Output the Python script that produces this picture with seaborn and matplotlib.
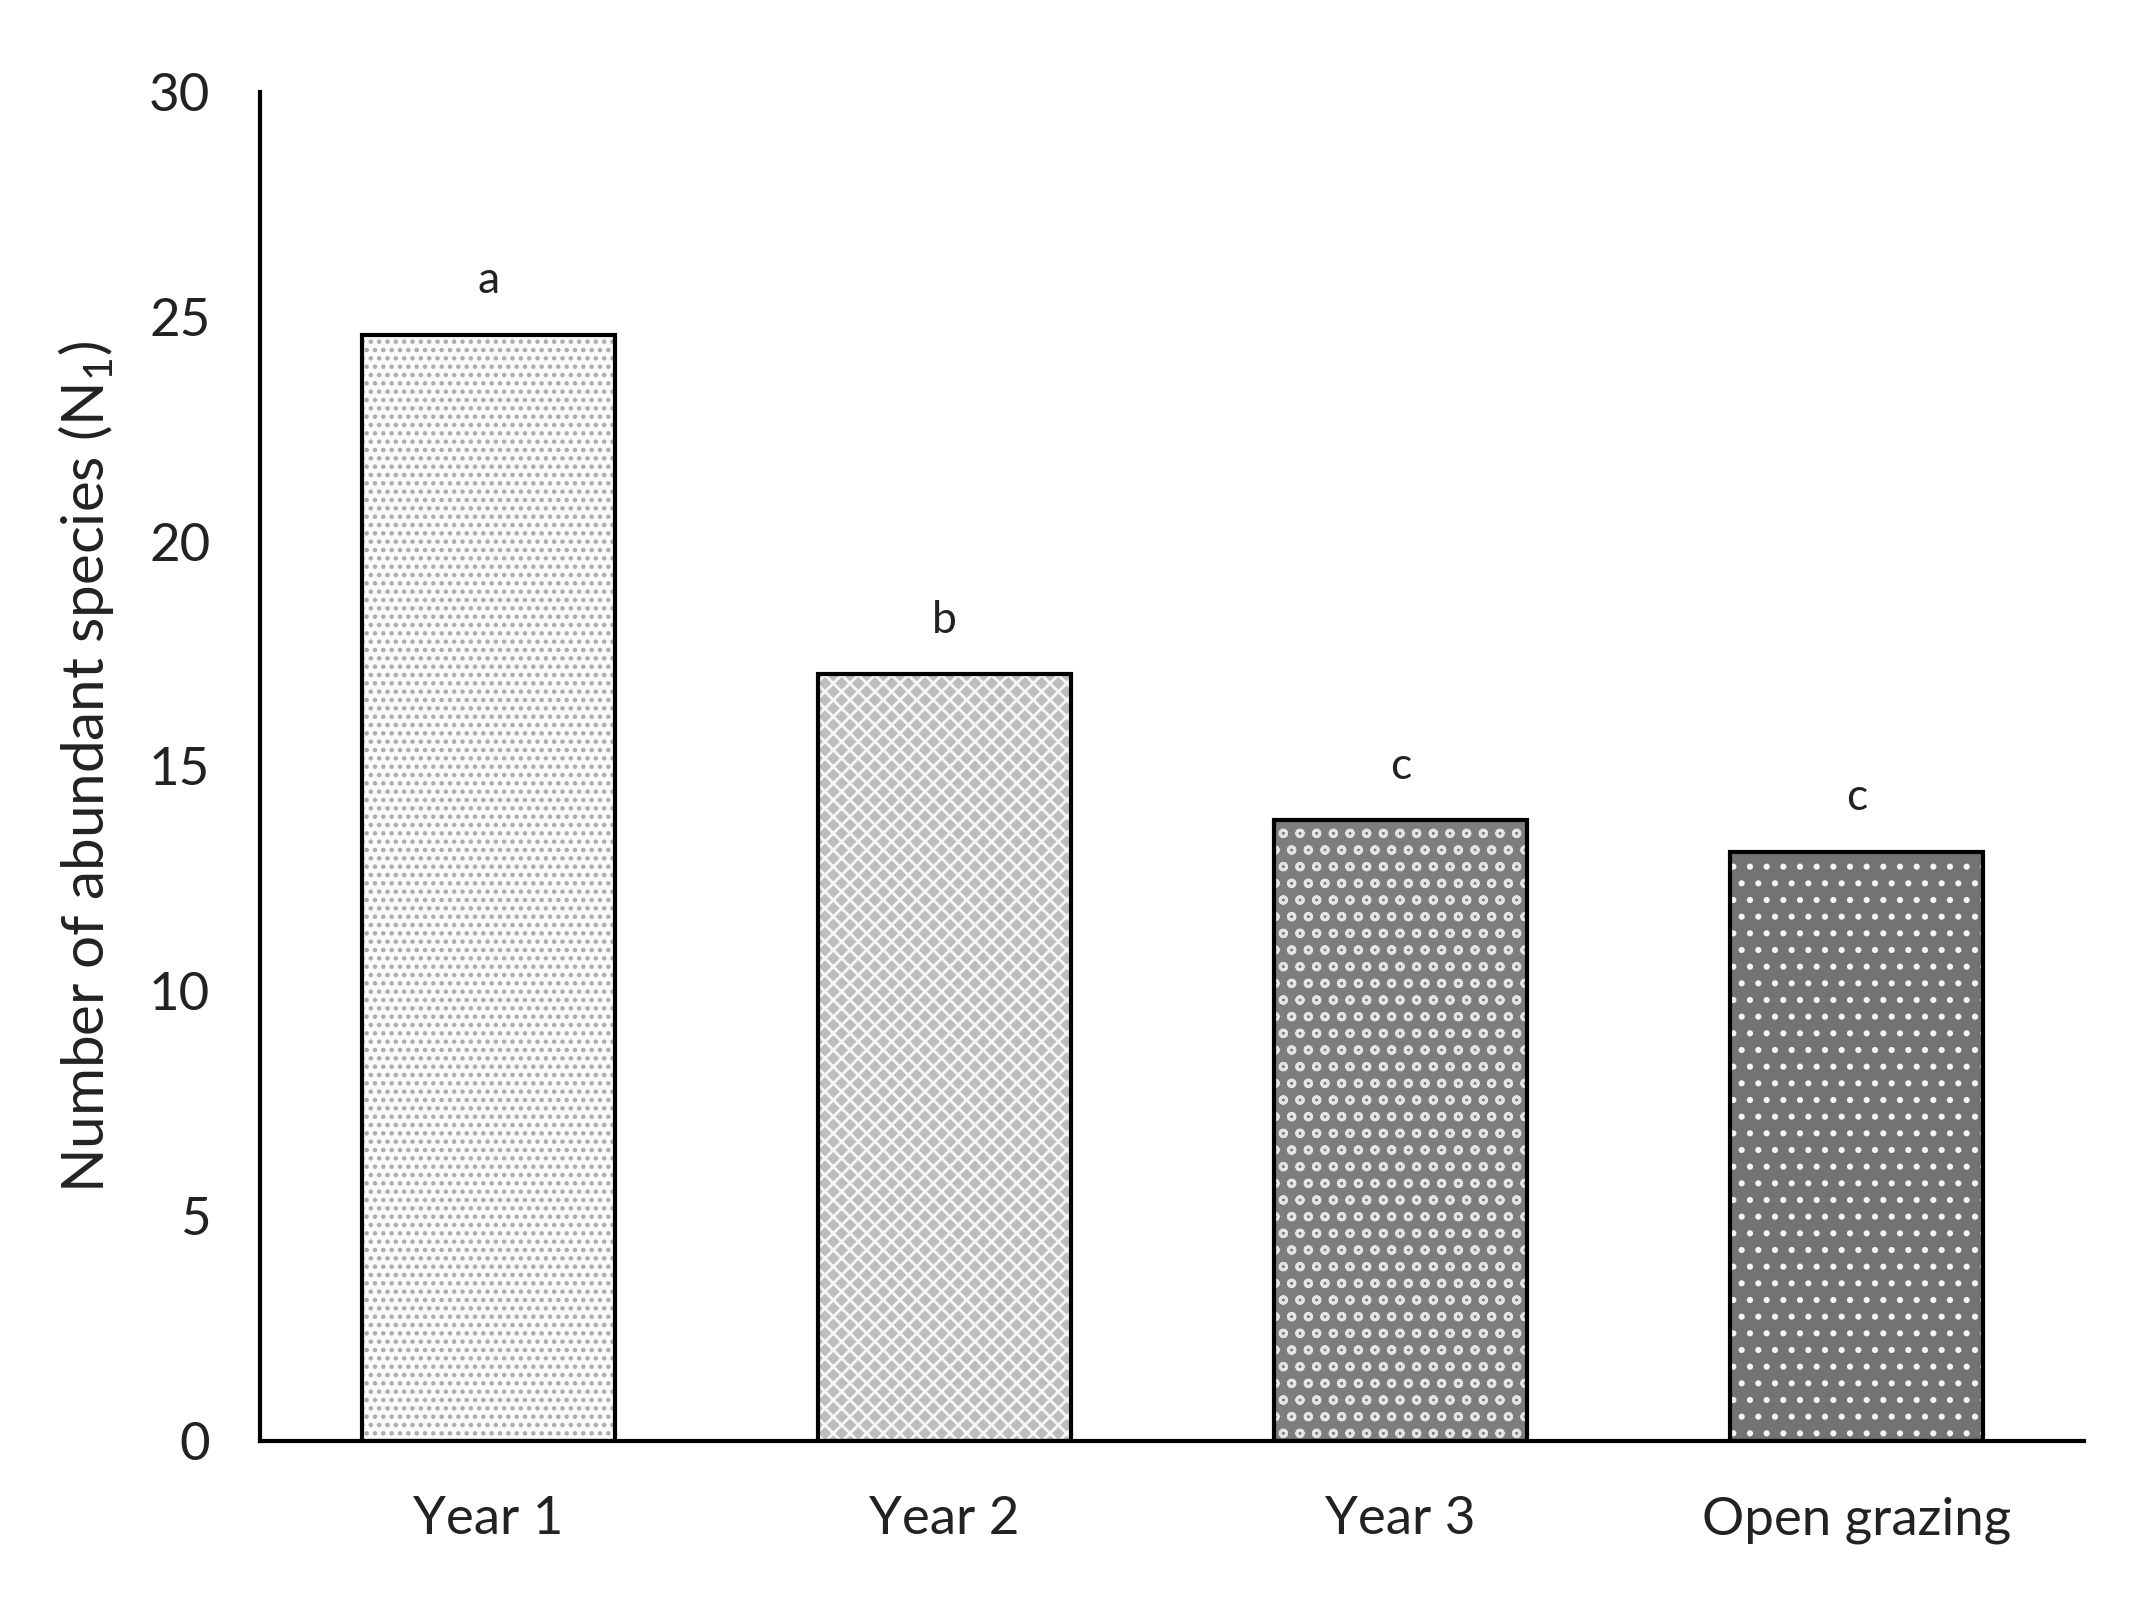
import matplotlib
matplotlib.use("Agg")
import matplotlib.pyplot as plt
import seaborn as sns
import pandas as pd

# data
treatments = ["Year 1", "Year 2", "Year 3", "Open grazing"]
abundant_species = [24.6, 17.05, 13.8, 13.1]
group_letters = ["a", "b", "c", "c"]

# fill / hatch look of each bar
face_colors = ["#fafafa", "#bdbdbd", "#7d7d7d", "#737373"]
hatch_colors = ["#acacac", "#f6f6f6", "#e4e4e4", "#f4f4f4"]
hatches = ["..", "xx", "o", "."]

sns.set_theme(style="white")
plt.rcParams["font.family"] = ["Lato", "DejaVu Sans"]
plt.rcParams["hatch.linewidth"] = 2.0
plt.rcParams["mathtext.fontset"] = "custom"
plt.rcParams["mathtext.rm"] = "Lato"
plt.rcParams["mathtext.it"] = "Lato"

df = pd.DataFrame({"treatment": treatments, "n1": abundant_species})

fig = plt.figure(figsize=(21.51, 16.01), dpi=100)
ax = fig.add_axes([0.121, 0.1, 0.848, 0.8425])

# layer 1: filled bars carrying the hatch (hatch takes the edge colour)
sns.barplot(data=df, x="treatment", y="n1", width=0.555, linewidth=0, ax=ax)
for patch, fc, hc, h in zip(ax.patches, face_colors, hatch_colors, hatches):
    patch.set_facecolor(fc)
    patch.set_edgecolor(hc)
    patch.set_hatch(h)

# layer 2: black outlines on top
sns.barplot(data=df, x="treatment", y="n1", width=0.555, fill=False,
            edgecolor="black", linewidth=3, ax=ax)

# significance letters
for i, (val, lab) in enumerate(zip(abundant_species, group_letters)):
    ax.text(i, val + 0.75, lab, ha="center", va="bottom", fontsize=32,
            color="#222222")

ax.set_ylim(0, 30)
ax.set_xlim(-0.5, 3.5)
ax.set_yticks(range(0, 31, 5))
ax.tick_params(axis="both", length=0, labelsize=38, colors="#222222")
ax.tick_params(axis="y", pad=36)
ax.tick_params(axis="x", pad=40)
ax.set_xlabel("")
ax.set_ylabel("Number of abundant species (N$_1$)", fontsize=42,
              color="#222222", labelpad=24)

sns.despine(ax=ax)
for side in ["left", "bottom"]:
    ax.spines[side].set_linewidth(3)
    ax.spines[side].set_color("black")

fig.savefig("out.png", dpi=100, facecolor="white")
